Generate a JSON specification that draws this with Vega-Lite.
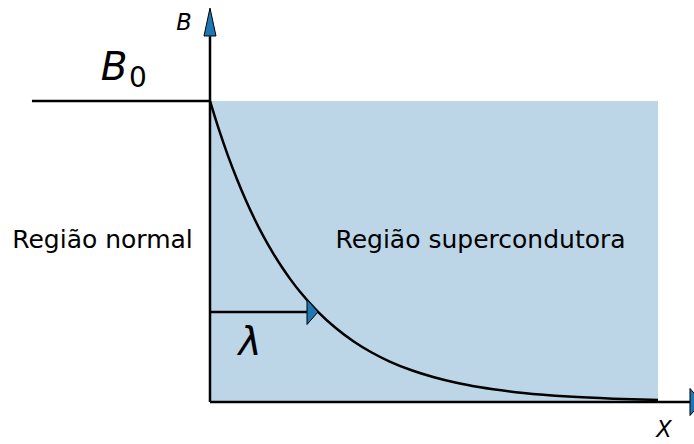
{
  "$schema": "https://vega.github.io/schema/vega-lite/v6.json",
  "width": 694,
  "height": 444,
  "autosize": "none",
  "padding": 0,
  "background": "white",
  "config": {"view": {"stroke": null}, "font": "DejaVu Sans"},
  "datasets": {
    "region": [{"x": 0, "x2": 5, "y": 0, "y2": 1}],
    "curve": [
      {"x": 0, "y": 1}, {"x": 0.1, "y": 0.9048}, {"x": 0.2, "y": 0.8187}, {"x": 0.3, "y": 0.7408},
      {"x": 0.4, "y": 0.6703}, {"x": 0.5, "y": 0.6065}, {"x": 0.6, "y": 0.5488}, {"x": 0.7, "y": 0.4966},
      {"x": 0.8, "y": 0.4493}, {"x": 0.9, "y": 0.4066}, {"x": 1.0, "y": 0.3679}, {"x": 1.2, "y": 0.3012},
      {"x": 1.4, "y": 0.2466}, {"x": 1.6, "y": 0.2019}, {"x": 1.8, "y": 0.1653}, {"x": 2.0, "y": 0.1353},
      {"x": 2.25, "y": 0.1054}, {"x": 2.5, "y": 0.0821}, {"x": 2.75, "y": 0.0639}, {"x": 3.0, "y": 0.0498},
      {"x": 3.5, "y": 0.0302}, {"x": 4.0, "y": 0.0183}, {"x": 4.5, "y": 0.0111}, {"x": 5.0, "y": 0.0067}
    ],
    "rules": [
      {"x": -1.987, "x2": 0, "y": 1, "y2": 1},
      {"x": 0, "x2": 0, "y": 0, "y2": 1.215},
      {"x": 0, "x2": 5.36, "y": 0, "y2": 0},
      {"x": 0, "x2": 1.085, "y": 0.299, "y2": 0.299}
    ],
    "headUp": [{"x": 0, "y": 1.309}],
    "headAxisX": [{"x": 5.357, "y": 0}],
    "headLambda": [{"x": 1.0826, "y": 0.299}],
    "regionLabels": [
      {"x": -1.1998, "y": 0.5116, "label": "Região normal"},
      {"x": 3.019, "y": 0.5116, "label": "Região supercondutora"}
    ],
    "axisLabels": [
      {"x": -0.29, "y": 1.2359, "label": "B"},
      {"x": 5.067, "y": -0.1163, "label": "X"}
    ],
    "bigSymbols": [
      {"x": -1.0714, "y": 1.0698, "label": "B"},
      {"x": 0.4464, "y": 0.1561, "label": "λ"}
    ],
    "subscript": [{"x": -0.8036, "y": 1.0475, "label": "0"}]
  },
  "encoding": {
    "x": {"field": "x", "type": "quantitative", "scale": {"domain": [-2.34375, 5.40179], "nice": false, "zero": false}, "axis": null},
    "y": {"field": "y", "type": "quantitative", "scale": {"domain": [-0.13953, 1.33555], "nice": false, "zero": false}, "axis": null}
  },
  "layer": [
    {
      "data": {"name": "region"},
      "mark": {"type": "rect", "color": "#bcd6e8", "opacity": 1},
      "encoding": {"x2": {"field": "x2"}, "y2": {"field": "y2"}}
    },
    {
      "data": {"name": "curve"},
      "mark": {"type": "line", "color": "black", "strokeWidth": 2.5, "interpolate": "monotone"}
    },
    {
      "data": {"name": "rules"},
      "mark": {"type": "rule", "color": "black", "strokeWidth": 2.5},
      "encoding": {"x2": {"field": "x2"}, "y2": {"field": "y2"}}
    },
    {
      "data": {"name": "headUp"},
      "mark": {"type": "point", "filled": true, "fill": "#1f77b4", "stroke": "black", "strokeWidth": 1, "opacity": 1, "fillOpacity": 1, "strokeOpacity": 1, "size": 4, "shape": "M0,0L6,28L-6,28Z"}
    },
    {
      "data": {"name": "headAxisX"},
      "mark": {"type": "point", "filled": true, "fill": "#1f77b4", "stroke": "black", "strokeWidth": 1, "opacity": 1, "fillOpacity": 1, "strokeOpacity": 1, "size": 4, "shape": "M0,-13.5L12,0L0,13.5Z"}
    },
    {
      "data": {"name": "headLambda"},
      "mark": {"type": "point", "filled": true, "fill": "#1f77b4", "stroke": "black", "strokeWidth": 1, "opacity": 1, "fillOpacity": 1, "strokeOpacity": 1, "size": 4, "shape": "M0,-12.5L11,0L0,12.5Z"}
    },
    {
      "data": {"name": "regionLabels"},
      "mark": {"type": "text", "font": "DejaVu Sans", "fontSize": 25, "color": "black", "align": "center", "baseline": "alphabetic"},
      "encoding": {"text": {"field": "label"}}
    },
    {
      "data": {"name": "axisLabels"},
      "mark": {"type": "text", "font": "DejaVu Sans", "fontStyle": "italic", "fontSize": 22.5, "color": "black", "align": "center", "baseline": "alphabetic"},
      "encoding": {"text": {"field": "label"}}
    },
    {
      "data": {"name": "bigSymbols"},
      "mark": {"type": "text", "font": "DejaVu Sans", "fontStyle": "italic", "fontSize": 39, "color": "black", "align": "center", "baseline": "alphabetic"},
      "encoding": {"text": {"field": "label"}}
    },
    {
      "data": {"name": "subscript"},
      "mark": {"type": "text", "font": "DejaVu Sans", "fontSize": 28, "color": "black", "align": "center", "baseline": "alphabetic"},
      "encoding": {"text": {"field": "label"}}
    }
  ]
}
